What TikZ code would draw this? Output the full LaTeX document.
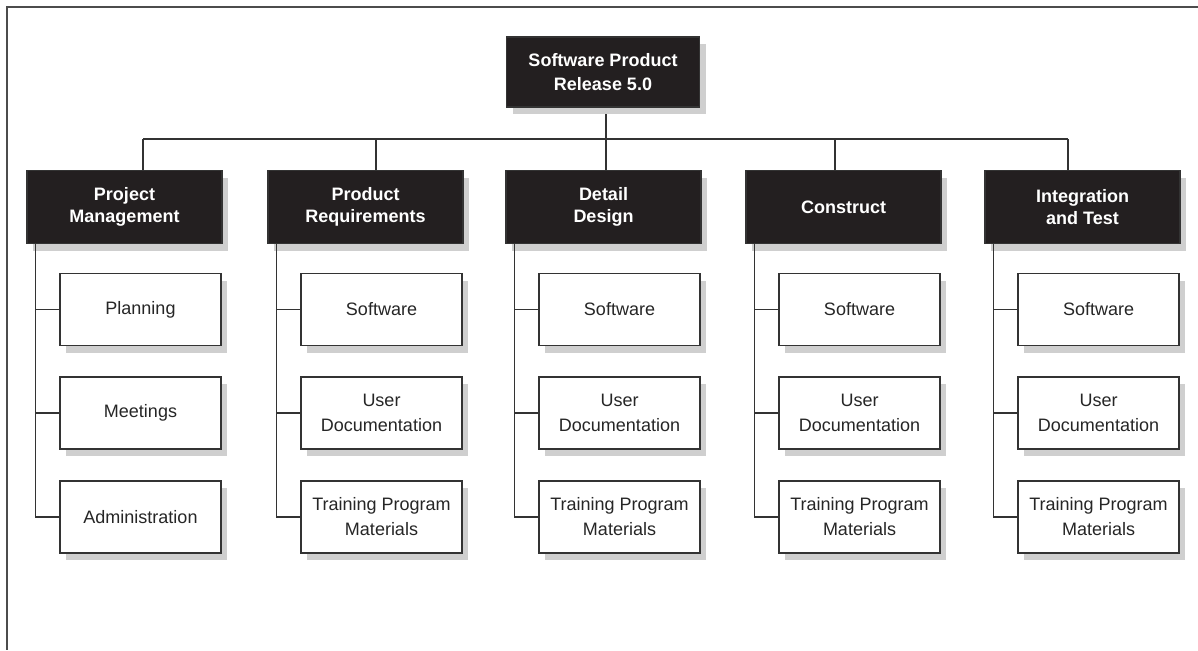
\documentclass[tikz,border=0pt]{standalone}
\usepackage{fontspec}
\setmainfont{Liberation Sans}
\usetikzlibrary{shadows}
\definecolor{boxblack}{HTML}{231F20}
\definecolor{linegray}{HTML}{333333}
\definecolor{shadowgray}{HTML}{CFCFCF}
\tikzset{
  shade6/.style={drop shadow={shadow xshift=6pt, shadow yshift=-7pt, fill=shadowgray, opacity=1}},
  topbox/.style={shade6, draw=linegray, line width=1.2pt, fill=boxblack, text=white,
    font=\fontsize{18}{22}\selectfont\bfseries, align=center, inner sep=0pt,
    minimum width=195pt, minimum height=73pt},
  subbox/.style={shade6, draw=linegray, line width=1.6pt, fill=white, text=black!85,
    font=\fontsize{18}{25}\selectfont, align=center, inner sep=0pt,
    minimum width=161pt, minimum height=72pt},
  conn/.style={draw=linegray, line width=1.4pt},
  frameline/.style={draw=black!70, line width=2pt}
}
\begin{document}
\begin{tikzpicture}[x=1pt, y=-1pt]
\useasboundingbox (0,0) rectangle (1198,650);
% frame (top and left)
\coordinate (fa) at (1198,7);
\coordinate (fb) at (7,7);
\coordinate (fc) at (7,650);
\draw[frameline] (fa) -- (fb) -- (fc);

% bus coordinates
\coordinate (b1) at (143,139);
\coordinate (b2) at (376,139);
\coordinate (b3) at (606,139);
\coordinate (b4) at (835,139);
\coordinate (b5) at (1068,139);

% connectors drawn first (under boxes)
\draw[conn] (b1) -- (b5);
\draw[conn] (b3) -- (606,107);
\foreach \b in {b1,b2,b3,b4,b5}{
  \draw[conn] (\b) -- ([yshift=-31pt]\b);
}

% root
\node[topbox, minimum width=193pt, minimum height=70pt, font=\fontsize{18}{24}\selectfont\bfseries] (root) at (603,72) {Software Product\\Release 5.0};

% level 2
\node[topbox] (pm) at (124.5,207) {Project\\Management};
\node[topbox] (pr) at (365.5,207) {Product\\Requirements};
\node[topbox] (dd) at (603.5,207) {Detail\\Design};
\node[topbox] (co) at (843.5,207) {Construct};
\node[topbox] (it) at (1082.5,207) {Integration\\and Test};

% children
\node[subbox] (c11) at (140.5,309.5) {Planning};
\node[subbox] (c12) at (140.5,413) {Meetings};
\node[subbox] (c13) at (140.5,517) {Administration};

\node[subbox] (c21) at (381.5,309.5) {Software};
\node[subbox] (c22) at (381.5,413) {User\\Documentation};
\node[subbox] (c23) at (381.5,517) {Training Program\\Materials};

\node[subbox] (c31) at (619.5,309.5) {Software};
\node[subbox] (c32) at (619.5,413) {User\\Documentation};
\node[subbox] (c33) at (619.5,517) {Training Program\\Materials};

\node[subbox] (c41) at (859.5,309.5) {Software};
\node[subbox] (c42) at (859.5,413) {User\\Documentation};
\node[subbox] (c43) at (859.5,517) {Training Program\\Materials};

\node[subbox] (c51) at (1098.5,309.5) {Software};
\node[subbox] (c52) at (1098.5,413) {User\\Documentation};
\node[subbox] (c53) at (1098.5,517) {Training Program\\Materials};

% left spines
\foreach \p/\c in {pm/1, pr/2, dd/3, co/4, it/5}{
  \coordinate (s\c) at ([xshift=9pt]\p.south west);
  \draw[conn] (s\c) |- (c\c3.west);
  \draw[conn] (c\c1.west -| s\c) -- (c\c1.west);
  \draw[conn] (c\c2.west -| s\c) -- (c\c2.west);
}
\end{tikzpicture}
\end{document}
